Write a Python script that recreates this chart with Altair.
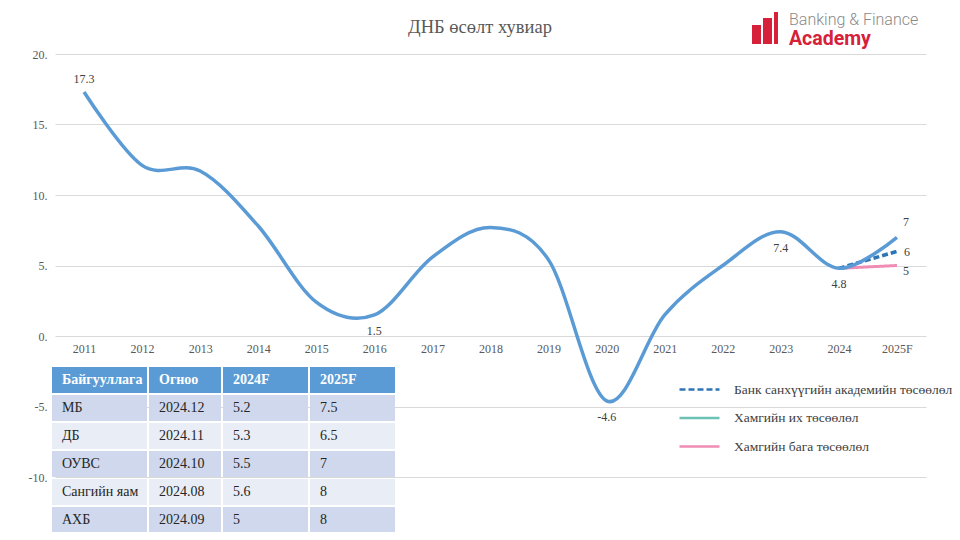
import altair as alt
import pandas as pd

# ---------------- data ----------------
years = ["2011", "2012", "2013", "2014", "2015", "2016", "2017", "2018",
         "2019", "2020", "2021", "2022", "2023", "2024", "2025F"]
hist_years = years[:14]
hist_gdp = [17.3, 12.1, 11.7, 7.8, 2.4, 1.5, 5.6, 7.7, 5.4, -4.6, 1.5, 5.0, 7.4, 4.8]

fc_years = ["2024", "2025F"]
fc_bfa = [4.8, 6.0]
fc_high = [4.8, 7.0]
fc_low = [4.8, 5.0]
series_names = ["Банк санхүүгийн академийн төсөөлөл",
                "Хамгийн их төсөөлөл",
                "Хамгийн бага төсөөлөл"]

lab_below_years = ["2016", "2020", "2023", "2024"]
lab_below_vals = [1.5, -4.6, 7.4, 4.8]
lab_below_text = ["1.5", "-4.6", "7.4", "4.8"]

tbl_headers = ["Байгууллага", "Огноо", "2024F", "2025F"]
tbl_org = ["МБ", "ДБ", "ОУВС", "Сангийн яам", "АХБ"]
tbl_date = ["2024.12", "2024.11", "2024.10", "2024.08", "2024.09"]
tbl_2024 = ["5.2", "5.3", "5.5", "5.6", "5"]
tbl_2025 = ["7.5", "6.5", "7", "8", "8"]

title_text = "ДНБ өсөлт хувиар"

# ---------------- layout / style ----------------
SERIF = "Liberation Serif, DejaVu Serif, serif"
GRAY = "#595959"
BLUE = "#5B9BD5"
DBLUE = "#2E75B6"
TEAL = "#6CC1B4"
PINK = "#F08DB4"
RED = "#D7203A"
col_widths = [95, 72, 85, 85]
gap = 2

W, H = 871, 423

x_scale = alt.Scale(domain=years, type="point", padding=0.5)
y_scale = alt.Scale(domain=[-10, 20], nice=False, zero=False)
x_axis = alt.Axis(orient="bottom", offset=-141, domain=False, ticks=False, tickSize=0,
                  labelPadding=7, labelAngle=0, labelFont=SERIF, labelFontSize=12,
                  labelColor=GRAY, title=None, grid=False)
y_axis = alt.Axis(values=[-10, -5, 0, 5, 10, 15, 20], labelExpr="datum.value + '.'",
                  domain=False, ticks=False, tickSize=0, grid=True, gridColor="#d9d9d9",
                  gridWidth=1, labelPadding=8, labelFont=SERIF, labelFontSize=12,
                  labelColor=GRAY, title=None)


def X():
    return alt.X("year:N", scale=x_scale, axis=x_axis, sort=years)


def Y():
    return alt.Y("value:Q", scale=y_scale, axis=y_axis)


# main blue line continues into the highest forecast
main_df = pd.DataFrame({"year": hist_years + fc_years[1:],
                        "value": hist_gdp + fc_high[1:]})
bfa_df = pd.DataFrame({"year": fc_years, "value": fc_bfa, "series": series_names[0]})
low_df = pd.DataFrame({"year": fc_years, "value": fc_low, "series": series_names[2]})

legend = alt.Legend(title=None, orient="none", legendX=633, legendY=324,
                    symbolType="M-2,0L2,0", symbolSize=400, symbolStrokeWidth=2.5,
                    labelOffset=23, rowPadding=10.5, padding=0, labelFont=SERIF,
                    labelFontSize=13.5, labelColor="#404040", labelLimit=400)
color_enc = alt.Color("series:N", scale=alt.Scale(domain=series_names,
                                                 range=[DBLUE, TEAL, PINK]), legend=legend)
dash_enc = alt.StrokeDash("series:N", scale=alt.Scale(domain=series_names,
                                                     range=[[6, 3], [1, 0], [1, 0]]), legend=legend)

low_line = alt.Chart(low_df).mark_line(interpolate="cardinal", strokeWidth=3).encode(
    x=X(), y=Y(), color=color_enc, strokeDash=dash_enc)
bfa_line = alt.Chart(bfa_df).mark_line(interpolate="cardinal", strokeWidth=3.5).encode(
    x=X(), y=Y(), color=color_enc, strokeDash=dash_enc)
main_line = alt.Chart(main_df).mark_line(interpolate="cardinal", strokeWidth=3.5,
                                         color=BLUE).encode(x=X(), y=Y())

txt_style = dict(font=SERIF, fontSize=12, color="#404040")
below_df = pd.DataFrame({"year": lab_below_years, "value": lab_below_vals, "t": lab_below_text})
lab_below = alt.Chart(below_df).mark_text(dy=16, **txt_style).encode(x=X(), y=Y(), text="t:N")
lab_top = alt.Chart(pd.DataFrame({"year": ["2011"], "value": [17.3], "t": ["17.3"]})).mark_text(
    dy=-13, **txt_style).encode(x=X(), y=Y(), text="t:N")
lab_high = alt.Chart(pd.DataFrame({"year": ["2025F"], "value": [7.0], "t": ["7"]})).mark_text(
    dy=-15, dx=9, **txt_style).encode(x=X(), y=Y(), text="t:N")
lab_bfa = alt.Chart(pd.DataFrame({"year": ["2025F"], "value": [6.0], "t": ["6"]})).mark_text(
    dx=7, dy=1, align="left", **txt_style).encode(x=X(), y=Y(), text="t:N")
lab_low = alt.Chart(pd.DataFrame({"year": ["2025F"], "value": [5.0], "t": ["5"]})).mark_text(
    dx=6, dy=5, align="left", **txt_style).encode(x=X(), y=Y(), text="t:N")

main_group = alt.layer(low_line, bfa_line, main_line,
                       lab_below, lab_top, lab_high, lab_bfa, lab_low)

# ---------------- table ----------------
x0s, x1s = [], []
pos = 0
for w in col_widths:
    x0s.append(pos)
    x1s.append(pos + w)
    pos += w + gap
total = x1s[-1]

cells = []
for c, h in enumerate(tbl_headers):
    cells.append({"row": 0, "x0": x0s[c], "x1": x1s[c], "t": h, "kind": "head"})
cols = [tbl_org, tbl_date, tbl_2024, tbl_2025]
for r in range(len(tbl_org)):
    for c in range(4):
        cells.append({"row": r + 1, "x0": x0s[c], "x1": x1s[c], "t": cols[c][r],
                      "kind": "odd" if r % 2 == 0 else "even"})
cells_df = pd.DataFrame(cells)

tx = alt.Scale(domain=[0, total], range=[-3, -3 + total], nice=False, zero=False)
ty = alt.Scale(domain=list(range(6)), range=[313, 479], paddingInner=0.07, paddingOuter=0)

rects = alt.Chart(cells_df).mark_rect().encode(
    x=alt.X("x0:Q", scale=tx, axis=None), x2="x1:Q",
    y=alt.Y("row:O", scale=ty, axis=None),
    fill=alt.Fill("kind:N", scale=alt.Scale(domain=["head", "odd", "even"],
                                            range=[BLUE, "#CFD8EC", "#E9EDF5"]), legend=None))
head_txt = alt.Chart(cells_df).transform_filter("datum.row == 0").mark_text(
    align="left", dx=10, font=SERIF, fontSize=14, fontWeight="bold", color="white").encode(
    x=alt.X("x0:Q", scale=tx, axis=None), y=alt.Y("row:O", scale=ty, axis=None), text="t:N")
body_txt = alt.Chart(cells_df).transform_filter("datum.row > 0").mark_text(
    align="left", dx=10, font=SERIF, fontSize=14, color="#262626").encode(
    x=alt.X("x0:Q", scale=tx, axis=None), y=alt.Y("row:O", scale=ty, axis=None), text="t:N")

# ---------------- title & logo ----------------
dummy = alt.Data(values=[{"a": 1}])
title = alt.Chart(dummy).mark_text(text=title_text, font=SERIF, fontSize=18.5, color=GRAY,
                                   baseline="middle").encode(x=alt.value(425), y=alt.value(-27))
bar1 = alt.Chart(dummy).mark_rect(color=RED).encode(
    x=alt.value(697), x2=alt.value(706), y=alt.value(-29), y2=alt.value(-10))
bar2 = alt.Chart(dummy).mark_rect(color=RED).encode(
    x=alt.value(708), x2=alt.value(717), y=alt.value(-36), y2=alt.value(-10))
bar3 = alt.Chart(dummy).mark_rect(color=RED).encode(
    x=alt.value(719), x2=alt.value(723), y=alt.value(-42), y2=alt.value(-10))
logo1 = alt.Chart(dummy).mark_text(text="Banking & Finance", font="Roboto", fontSize=16,
                                   fontWeight=300, color="#8a8a8a", align="left",
                                   baseline="alphabetic").encode(x=alt.value(734), y=alt.value(-29))
logo2 = alt.Chart(dummy).mark_text(text="Academy", font="Roboto", fontSize=19.5,
                                   fontWeight="bold", color=RED, align="left",
                                   baseline="alphabetic").encode(x=alt.value(734), y=alt.value(-9))

table_group = alt.layer(rects, head_txt, body_txt, title, bar1, bar2, bar3, logo1, logo2)

chart = alt.layer(main_group, table_group).resolve_scale(
    x="independent", y="independent").properties(
    width=W, height=H,
    autosize=alt.AutoSizeParams(type="none"),
    padding={"left": 47, "top": 46, "right": 26, "bottom": 55},
).configure_view(stroke=None)

chart.save("out.html", embed_options={"renderer": "svg", "actions": False})
